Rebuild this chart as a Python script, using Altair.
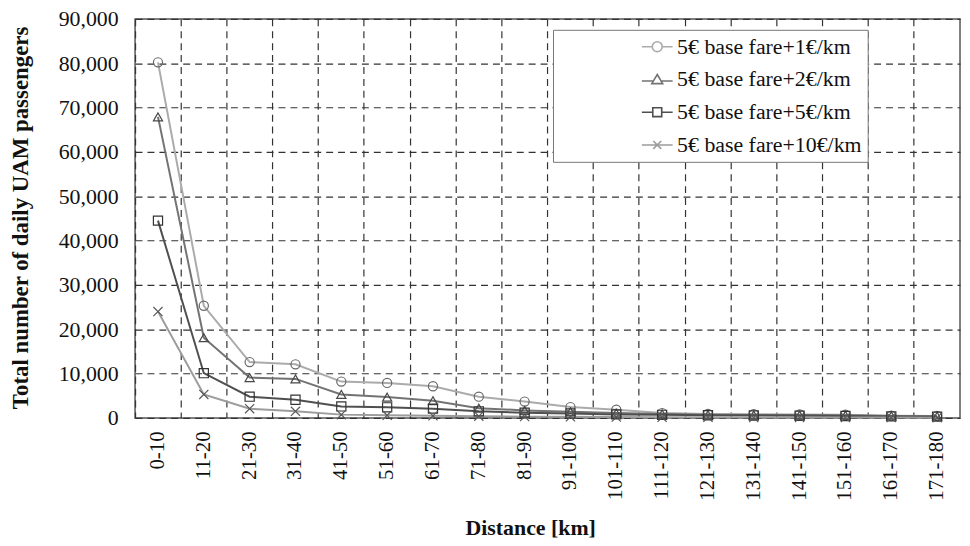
import altair as alt
import pandas as pd

categories = ["0-10", "11-20", "21-30", "31-40", "41-50", "51-60", "61-70", "71-80", "81-90",
              "91-100", "101-110", "111-120", "121-130", "131-140", "141-150", "151-160",
              "161-170", "171-180"]

series_names = ["5€ base fare+1€/km", "5€ base fare+2€/km", "5€ base fare+5€/km", "5€ base fare+10€/km"]

fare_1 = [80200, 25300, 12600, 12100, 8200, 7900, 7150, 4800, 3700, 2450, 1850, 1100, 900, 850, 800, 750, 500, 450]
fare_2 = [67900, 18100, 9100, 8800, 5300, 4700, 3900, 2200, 1700, 1400, 1100, 900, 700, 650, 650, 600, 450, 400]
fare_5 = [44500, 10100, 4800, 4100, 2600, 2400, 2100, 1500, 1200, 1000, 800, 700, 600, 550, 500, 450, 350, 300]
fare_10 = [24000, 5300, 2100, 1500, 750, 600, 500, 400, 300, 250, 200, 150, 150, 100, 100, 100, 80, 60]

y_ticks = [0, 10000, 20000, 30000, 40000, 50000, 60000, 70000, 80000, 90000]

rows = []
for name, vals in zip(series_names, [fare_1, fare_2, fare_5, fare_10]):
    for c, v in zip(categories, vals):
        rows.append({"dist": c, "series": name, "value": v})
df = pd.DataFrame(rows)

FONT = "Liberation Serif, Times New Roman, serif"
line_colors = ["#ababab", "#737373", "#4f4f4f", "#9c9c9c"]
marker_colors = ["#686868", "#484848", "#333333", "#585858"]
marker_shapes = ["circle", "triangle-up", "square", "M-1,-1L1,1M-1,1L1,-1"]
legend_shapes = [
    "M-1.55,0L-0.5,0M0.5,0L1.55,0M-0.5,0A0.5,0.5,0,1,1,0.5,0A0.5,0.5,0,1,1,-0.5,0",
    "M-1.55,0.15L-0.39,0.15M0.39,0.15L1.55,0.15M0,-0.5L0.55,0.42L-0.55,0.42Z",
    "M-1.55,0L-0.45,0M0.45,0L1.55,0M-0.45,-0.45L0.45,-0.45L0.45,0.45L-0.45,0.45Z",
    "M-1.55,0L1.55,0M-0.4,-0.4L0.4,0.4M-0.4,0.4L0.4,-0.4",
]

x_enc = alt.X(
    "dist:N", sort=categories,
    scale=alt.Scale(type="band", paddingInner=0, paddingOuter=0),
    axis=alt.Axis(
        title="Distance [km]", labelAngle=-90, labelFont=FONT, labelFontSize=21,
        labelColor="#111111", labelPadding=13, ticks=False, domain=False,
        grid=True, bandPosition=0, gridDash=[7, 5], gridColor="#333333", gridWidth=1.2,
        titleFont=FONT, titleFontSize=22, titleFontWeight="bold", titleColor="#111111",
        titleX=398, titleY=100,
    ),
)
y_enc = alt.Y(
    "value:Q",
    scale=alt.Scale(domain=[0, 90000], nice=False),
    axis=alt.Axis(
        title="Total number of daily UAM passengers", values=y_ticks, format=",d",
        labelFont=FONT, labelFontSize=22, labelColor="#111111", labelPadding=17,
        ticks=False, domain=False, grid=True, gridDash=[7, 5], gridColor="#333333",
        gridWidth=1.2, titleFont=FONT, titleFontSize=23, titleFontWeight="bold",
        titleColor="#111111", titleX=-103, titleY=200,
    ),
)

sort_series = series_names
base = alt.Chart(df)

lines = base.mark_line(strokeWidth=2).encode(
    x=x_enc, y=y_enc,
    color=alt.Color("series:N", sort=sort_series,
                    scale=alt.Scale(domain=series_names, range=line_colors), legend=None),
)

points = base.mark_point(filled=False, size=85, strokeWidth=1.2, opacity=1).encode(
    x=x_enc, y=y_enc,
    color=alt.Color("series:N", sort=sort_series,
                    scale=alt.Scale(domain=series_names, range=marker_colors), legend=None),
    shape=alt.Shape("series:N", sort=sort_series,
                    scale=alt.Scale(domain=series_names, range=marker_shapes), legend=None),
)

pad = "\u00a0" * 27
leg = alt.Legend(
    title=None, orient="none", legendX=421, legendY=11,
    padding=6, fillColor="white", strokeColor="#777777",
    labelFont=FONT, labelFontSize=22, labelColor="#111111",
    labelExpr="datum.label + '" + pad + "'",
    symbolSize=400, symbolStrokeWidth=1.6, symbolOpacity=1,
    symbolOffset=88, labelOffset=9, rowPadding=11, labelLimit=0,
)

legend_layer = base.mark_point(filled=False, opacity=0).encode(
    x=x_enc, y=y_enc,
    color=alt.Color("series:N", sort=sort_series,
                    scale=alt.Scale(domain=series_names, range=line_colors), legend=leg),
    shape=alt.Shape("series:N", sort=sort_series,
                    scale=alt.Scale(domain=series_names, range=legend_shapes), legend=leg),
)

chart = (
    alt.layer(lines, points, legend_layer)
    .resolve_scale(color="independent", shape="independent")
    .properties(
        width=831, height=402,
        autosize=alt.AutoSizeParams(type="none"),
        padding={"left": 128, "top": 9, "right": 2, "bottom": 124},
        background="white",
    )
    .configure_view(stroke="#555555", strokeWidth=1.5)
)

chart.save("out.html", embed_options={"renderer": "svg", "actions": False})
